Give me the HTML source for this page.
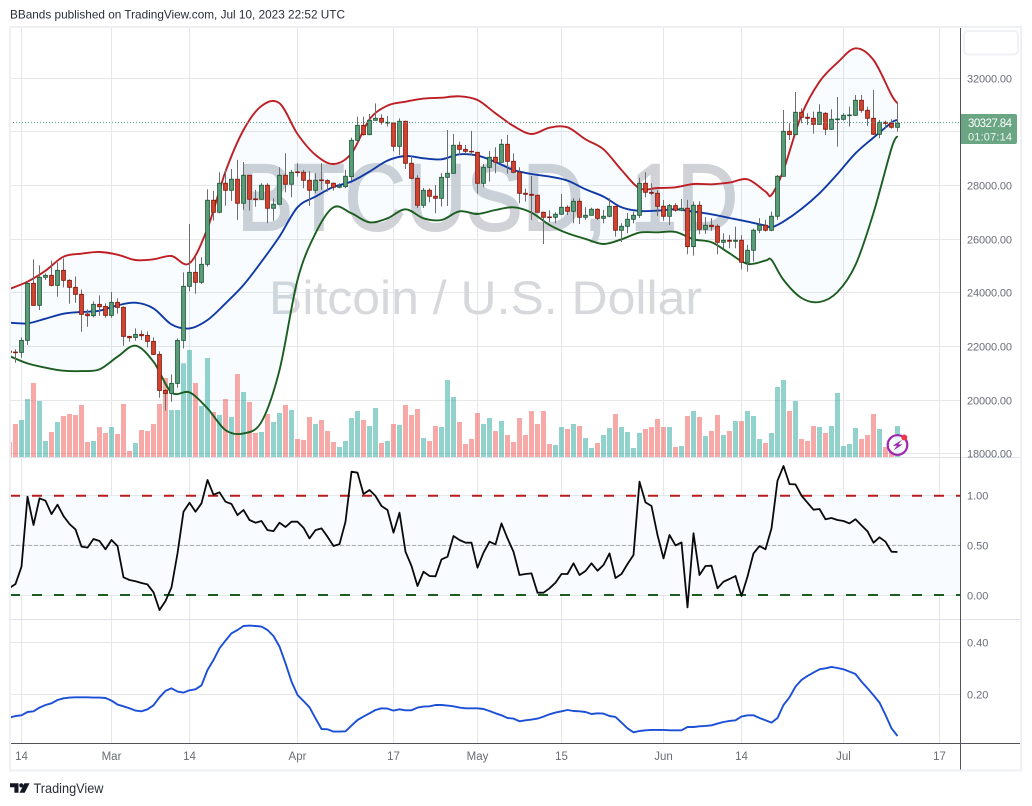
<!DOCTYPE html>
<html>
<head>
<meta charset="utf-8">
<title>BTCUSD 1D Bollinger Bands</title>
<style>
html,body{margin:0;padding:0;background:#fff;width:1032px;height:806px;overflow:hidden}
svg{display:block;font-family:"Liberation Sans",sans-serif}
</style>
</head>
<body>
<svg id="chart" width="1032" height="806" viewBox="0 0 1032 806" xmlns="http://www.w3.org/2000/svg">
  <defs>
    <clipPath id="plot-clip"><rect x="10" y="27" width="950.5" height="716"></rect></clipPath>
    <clipPath id="main-clip"><rect x="10" y="27" width="950.5" height="430"></rect></clipPath>
  </defs>
  <rect x="0" y="0" width="1032" height="806" fill="#ffffff"></rect>
  <text x="10" y="18.5" font-size="12" fill="#2a2e39" textLength="335" lengthAdjust="spacingAndGlyphs">BBands published on TradingView.com, Jul 10, 2023 22:52 UTC</text>
  <g id="grid"></g>
  <text x="237" y="230" font-size="95" fill="#d0d2d7" textLength="501" lengthAdjust="spacingAndGlyphs" stroke="#d0d2d7" stroke-width="2">BTCUSD, 1D</text>
  <text x="269" y="314" font-size="47" fill="#d6d8dc" textLength="433" lengthAdjust="spacingAndGlyphs">Bitcoin / U.S. Dollar</text>
  <g id="main" clip-path="url(#main-clip)"></g>
  <g id="osc" clip-path="url(#plot-clip)"></g>
  <g id="width" clip-path="url(#plot-clip)"></g>
  <g id="axes"></g>
  <rect x="10" y="27" width="1011" height="743.5" fill="none" stroke="#eff0f4" stroke-width="2"></rect>
  <rect x="964" y="31" width="54" height="23.5" rx="4" fill="#ffffff" stroke="#f0f1f5" stroke-width="2"></rect>
  <g>
    <circle cx="897.5" cy="445" r="9.8" fill="#ffffff" fill-opacity="0.8" stroke="#9c27b0" stroke-width="2.2"></circle>
    <path d="M902 439.8 L892.7 445.8 H897 L893.6 450.4 L902.6 444.4 H898.2 Z" fill="#9c27b0"></path>
    <circle cx="904.3" cy="437.5" r="3" fill="#f23645"></circle>
  </g>
  <g>
    <path d="M10 783.3 H18.5 V792.8 H14.4 V787.3 H10 Z" fill="#131722"></path>
    <circle cx="21.3" cy="785.4" r="2.1" fill="#131722"></circle>
    <path d="M19.5 792.8 L24.4 783.3 H29.6 L24.7 792.8 Z" fill="#131722"></path>
    <text x="33.5" y="793" font-size="14" fill="#2a2e39" textLength="70" lengthAdjust="spacingAndGlyphs">TradingView</text>
  </g>
</svg>
<script>
const startDate = '2023-02-12';
const openValues = [21826,21789,21777,22224,24352,23531,24576,24650,24277,24837,24464,24202,23941,23207,23145,23568,23493,
23157,23643,23456,22374,22336,22448,22411,22187,21702,20358,20246,20620,22224,24240,24762,24389,25061,27451,27003,28085,27823,28234,27339,28383,27500,27488,28010,27152,27301,28383,28047,
28507,28495,28196,27823,28209,28184,28085,27935,27960,28332,29687,30246,29898,30433,30507,30333,30333,29463,30396,28829,28270,27263,27822,27599,27524,28307,28457,29501,29351,29277,
29240,28084,28680,29053,28867,29538,28904,28494,27711,27673,27636,27002,26828,26816,26928,27189,27039,27412,26816,26890,27114,26778,26853,27226,26331,26480,26741,26890,28084,27748,27711,
27226,26853,27251,27077,27152,25722,27264,26369,26518,26481,25884,25959,25921,25959,25138,25586,26332,26518,26332,26854,28345,30023,29899,30732,30545,30508,30284,30695,30098,30458,
30471,30607,30620,31179,30806,30508,29911,30359,30322,30172];
const highValues = [21888,21888,22336,24414,25247,25023,24725,25197,25135,25285,24501,24613,24128,23381,23680,23904,23605,
24028,23792,23493,22386,22672,22598,22560,22336,21814,20396,20955,22299,24762,26566,25322,25322,27861,27799,28495,28619,28619,28955,28880,28383,27836,28085,28085,27525,28681,29203,28582,
28830,28582,28532,28457,28830,28234,28110,28085,28582,29787,30570,30570,30669,31067,30657,30594,30346,30507,30420,29103,28382,27910,27897,28021,28457,30072,29923,29637,29513,30038,
29252,28805,29289,29426,29737,29886,29202,28680,27885,28357,27661,27027,27077,27002,27686,27263,27524,27524,27189,27176,27151,27089,27524,27226,26592,26977,27027,28295,28494,28084,27835,
27462,27313,27338,27499,27463,27400,27413,26816,26779,26555,26220,26157,26468,26157,25785,26394,26779,26717,27028,28395,30819,30322,31490,30881,30695,30757,31030,30732,30844,31304,
30695,30943,31378,31378,30943,31565,30446,30421,30471,31092];
const lowValues = [21714,21391,21577,22050,23506,23356,24476,24240,23854,24202,23593,23630,22548,22734,23083,23145,23070,
23070,23220,22025,22175,22212,22237,21963,21677,20085,19600,19935,20458,21926,24053,23966,24339,24974,26692,26966,27252,27426,26717,27090,27065,27214,27463,26593,26692,27301,27749,27562,
28333,27898,27239,27712,27836,27774,27811,27898,27898,28183,29637,29861,29898,30420,30271,30209,29277,29128,28618,28233,27164,27164,27375,26965,27213,27238,28444,29128,29177,29128,
27698,27934,28146,28457,28867,28444,28457,27338,27400,26716,26990,25821,26629,26592,26903,26903,26592,26567,26716,26890,26716,26592,26816,26095,25896,26219,26592,26791,27561,27648,26865,
26691,26530,27027,27039,25437,25387,26182,26195,26307,25437,25660,25660,25660,24877,24790,25163,26220,26282,26294,26717,28333,29700,29887,30322,30259,29936,30259,29887,30073,29452,
30421,30197,30595,30719,30222,29887,29762,30123,30123,30011];
const closeValues = [21777,21764,22224,24352,23531,24576,24650,24277,24837,24464,24202,23941,23195,23145,23568,23481,23157,
23643,23456,22374,22324,22448,22398,22187,21702,20358,20246,20620,22224,24240,24762,24389,25061,27451,27003,28085,27823,28234,27339,28383,27488,27475,28010,27152,27301,28383,28047,28495,
28482,28196,27823,28196,28184,28085,27935,27985,28345,29687,30246,29898,30433,30507,30358,30358,29463,30396,28829,28270,27263,27822,27599,27524,28307,28457,29501,29351,29277,29265,
28084,28680,29053,28867,29538,28904,28494,27711,27673,27636,27002,26816,26803,26928,27189,27039,27412,26816,26890,27114,26778,26853,27226,26331,26480,26741,26890,28084,27748,27711,27226,
26853,27251,27077,27151,25722,27264,26369,26518,26468,25884,25959,25921,25959,25138,25586,26332,26518,26332,26854,28345,30023,29899,30732,30545,30508,30284,30732,30098,30471,30483,
30620,30632,31179,30806,30508,29911,30359,30322,30172,30328];
const volumeValues = [45,99,111,174,222,168,48,75,105,123,129,126,156,45,48,90,72,90,69,159,18,42,81,78,99,159,237,141,141,281,321,222,153,297,135,126,174,120,249,195,165,72,75,129,105,132,156,141,54,51,120,99,111,78,45,30,48,117,138,111,93,147,42,48,99,96,156,126,144,57,48,93,90,231,180,105,39,54,132,99,117,78,108,66,45,117,66,138,99,138,39,36,90,84,99,93,57,27,42,66,87,129,90,75,27,72,84,90,114,90,90,30,33,123,138,120,63,78,126,66,78,108,108,138,123,54,42,72,210,231,138,168,54,48,93,90,72,93,192,33,39,87,54,66,129,84,30,21,93];
const bandBars = [0,3,6,9,12,15,18,21,24,27,30,33,36,39,42,45,48,51,54,57,60,63,66,69,72,75,78,81,84,87,90,93,96,99,102,105,108,111,114,117,120,123,126,127,129,132,135,138,141,144,147,148];
const upperBand = [24140,24414,24824,25347,25459,25521,25421,25222,25247,25372,25098,26406,28520,30073,30968,31068,29924,29141,28805,29202,30470,30980,31129,31241,31278,31328,31191,30694,30222,29923,30159,30172,29724,29351,28581,27897,27910,27934,28059,28047,28109,28233,27774,27649,28581,30632,31875,32584,33118,32683,31378,31067];
const middleBand = [22884,22859,23033,23220,23282,23331,23531,23630,23419,22821,22672,22983,23605,24289,25160,26100,27190,27587,27948,28150,28519,28929,29103,29016,28979,29165,29115,28879,28581,28432,28332,28183,27860,27586,27189,27052,27064,27114,27028,26928,26791,26655,26505,26443,26655,27127,27711,28432,29203,29787,30346,30446];
const lowerBand = [21640,21366,21204,21092,21080,21142,21615,22025,21428,20284,20284,19686,18878,18754,19189,21117,24476,26220,27190,26965,26629,26778,27114,26778,26716,27039,26940,27089,27189,26990,26530,26219,26008,25821,25995,26244,26256,26269,25996,25884,25474,25076,25200,25225,24480,23805,23656,24029,25039,26978,29389,29849];
const percentB = [.070,.111,.285,.990,.705,.973,.950,.815,.909,.795,.715,.661,.487,.477,.564,.544,.460,.554,.493,.178,.151,.138,.121,.107,.027,-.151,-.060,.077,.419,.839,.930,.839,.923,1.158,1.010,1.034,.940,.916,.805,.856,.755,.728,.745,.654,.644,.728,.685,.738,.738,.678,.570,.654,.671,.587,.493,.513,.738,1.242,1.232,1.017,1.057,.997,.896,.856,.628,.829,.436,.292,.091,.235,.191,.188,.359,.386,.594,.554,.527,.527,.275,.426,.537,.510,.721,.570,.436,.201,.211,.218,.023,.023,.067,.124,.211,.211,.319,.201,.242,.319,.245,.302,.419,.171,.211,.312,.403,1.141,.933,.896,.604,.369,.604,.500,.530,-.124,.621,.201,.292,.295,.067,.134,.161,.191,-.010,.185,.419,.493,.460,.671,1.151,1.299,1.117,1.114,1.000,.930,.859,.866,.762,.775,.755,.745,.721,.762,.701,.641,.527,.581,.537,.436,.433];
const bandWidth = [.1103,.1167,.1193,.1321,.1346,.1488,.1590,.1654,.1782,.1847,.1872,.1885,.1885,.1885,.1872,.1872,.1859,.1757,.1603,.1539,.1462,.1372,.1346,.1423,.1577,.1885,.2129,.2231,.2103,.2064,.2154,.2193,.2346,.2936,.3321,.3770,.4064,.4346,.4474,.4628,.4641,.4628,.4603,.4474,.4244,.3834,.3193,.2488,.1975,.1744,.1500,.1077,.0667,.0654,.0564,.0564,.0577,.0795,.1013,.1141,.1270,.1398,.1462,.1449,.1372,.1423,.1385,.1385,.1488,.1526,.1539,.1590,.1590,.1564,.1539,.1488,.1462,.1462,.1462,.1436,.1359,.1270,.1193,.1090,.1064,.0962,.1000,.1026,.1064,.1141,.1231,.1295,.1346,.1398,.1359,.1346,.1321,.1244,.1270,.1257,.1167,.1129,.0910,.0692,.0539,.0590,.0616,.0629,.0629,.0629,.0616,.0616,.0616,.0744,.0744,.0770,.0783,.0808,.0872,.0936,.0975,.1000,.1141,.1193,.1193,.1090,.1000,.0910,.1090,.1590,.1885,.2295,.2552,.2706,.2834,.2962,.3000,.3052,.3013,.2962,.2872,.2782,.2488,.2231,.1962,.1680,.1205,.0692,.0397];
const priceTicks = [32000,30000,28000,26000,24000,22000,20000,18000];
const priceTickLabels = ['32000.00','30000.00','28000.00','26000.00','24000.00','22000.00','20000.00','18000.00'];
const oscTicks = [1,0.5,0];
const oscTickLabels = ['1.00','0.50','0.00'];
const widthTicks = [0.4,0.2];
const widthTickLabels = ['0.40','0.20'];
const timeTickDates = ['2023-02-14','2023-03-01','2023-03-14','2023-04-01','2023-04-17','2023-05-01','2023-05-15','2023-06-01','2023-06-14','2023-07-01','2023-07-17'];
const timeTickLabels = ['14','Mar','14','Apr','17','May','15','Jun','14','Jul','17'];
const lastPrice = [30327.84];
const countdown = ['01:07:14'];

const NS = 'http://www.w3.org/2000/svg';
function make(tag, attrs, parent, text){
  const e = document.createElementNS(NS, tag);
  for (const k in attrs) e.setAttribute(k, attrs[k]);
  if (text !== undefined) e.textContent = text;
  parent.appendChild(e);
  return e;
}
const xOf = i => 9.5 + 6 * i;
const xOfDate = d => xOf((Date.parse(d) - Date.parse(startDate)) / 86400000);
const yPrice = p => 78.3 + (32000 - p) / 37.3;
const yOsc = v => 595 - 99.3 * v;
const yWidth = v => 694.3 - (v - 0.2) * 260;
const crisp = y => Math.floor(y) + 0.5;
const linePath = (xs, ys) => xs.map((x, i) => (i ? 'L' : 'M') + x.toFixed(1) + ' ' + ys[i].toFixed(1)).join(' ');
/* Catmull-Rom curve through the sampled band readings; cmd-less segments so it can be chained */
function curveSegments(xs, ys){
  let d = '';
  for (let i = 0; i < xs.length - 1; i++){
    const a = Math.max(i - 1, 0), b = Math.min(i + 2, xs.length - 1);
    const c1x = xs[i] + (xs[i + 1] - xs[a]) / 6, c1y = ys[i] + (ys[i + 1] - ys[a]) / 6;
    const c2x = xs[i + 1] - (xs[b] - xs[i]) / 6, c2y = ys[i + 1] - (ys[b] - ys[i]) / 6;
    d += ' C' + c1x.toFixed(1) + ' ' + c1y.toFixed(1) + ' ' + c2x.toFixed(1) + ' ' + c2y.toFixed(1) + ' ' + xs[i + 1].toFixed(1) + ' ' + ys[i + 1].toFixed(1);
  }
  return d;
}
const curvePath = (xs, ys) => 'M' + xs[0].toFixed(1) + ' ' + ys[0].toFixed(1) + curveSegments(xs, ys);

const grid = document.getElementById('grid');
const mainPane = document.getElementById('main');
const oscPane = document.getElementById('osc');
const widthPane = document.getElementById('width');
const axes = document.getElementById('axes');
const GRID = '#e6e7ea', TEXT = '#6a6d75';

timeTickDates.forEach((d, i) => {
  const x = Math.floor(xOfDate(d)) + 0.5;
  const v = make('line', {x1:x, x2:x, y1:27, y2:743, stroke:GRID, 'stroke-width':1}, grid);
  
  
  const t = make('text', {x:x, y:760, 'font-size':11.5, fill:TEXT, 'text-anchor':'middle'}, axes, timeTickLabels[i]);
  
  
});
priceTicks.forEach((p, i) => {
  const y = crisp(yPrice(p));
  const g = make('line', {x1:10, x2:960, y1:y, y2:y, stroke:GRID, 'stroke-width':1}, grid);
  
  
  const t = make('text', {x:967, y:y + 4, 'font-size':11, fill:TEXT, textLength:45, lengthAdjust:'spacing'}, axes, priceTickLabels[i]);
  
  
});
const oscFill = make('rect', {x:10, y:yOsc(1), width:950, height:yOsc(0) - yOsc(1), fill:'#f8fbff'}, grid);


oscTicks.forEach((v, i) => {
  const y = crisp(yOsc(v));
  const g = make('line', {x1:10, x2:960, y1:y, y2:y, stroke:GRID, 'stroke-width':1}, grid);
  
  
  const t = make('text', {x:967, y:y + 4, 'font-size':11, fill:TEXT}, axes, oscTickLabels[i]);
  
  
});
widthTicks.forEach((v, i) => {
  const y = crisp(yWidth(v));
  const g = make('line', {x1:10, x2:960, y1:y, y2:y, stroke:GRID, 'stroke-width':1}, grid);
  
  
  const t = make('text', {x:967, y:y + 4, 'font-size':11, fill:TEXT}, axes, widthTickLabels[i]);
  
  
});
[457.5, 619.5].forEach(y => {
  const s = make('line', {x1:10, x2:1021, y1:y, y2:y, stroke:'#e0e3eb', 'stroke-width':1}, grid);
  
  
});

/* Bollinger fill */
const bx = bandBars.map(xOf);
const upperY = upperBand.map(yPrice);
const lowerY = lowerBand.map(yPrice);
const lastIdx = bx.length - 1;
const fillD = curvePath(bx, upperY) + ' L' + bx[lastIdx].toFixed(1) + ' ' + lowerY[lastIdx].toFixed(1) + curveSegments(bx.slice().reverse(), lowerY.slice().reverse()) + ' Z';
const bandFill = make('path', {d:fillD, fill:'#2196f3', 'fill-opacity':0.033}, mainPane);



/* Volume */
volumeValues.forEach((v, i) => {
  const up = closeValues[i] >= openValues[i];
  const h = v / 3;
  const r = make('rect', {x:xOf(i) - 2.5, y:457 - h, width:5, height:h, fill: up ? 'rgba(38,166,154,0.5)' : 'rgba(239,83,80,0.5)'}, mainPane);
  
  
});

/* Band lines */
const upperLine = make('path', {d:curvePath(bx, upperY), fill:'none', stroke:'#bd1f25', 'stroke-width':1.9, 'stroke-linejoin':'round'}, mainPane);


const middleLine = make('path', {d:curvePath(bx, middleBand.map(yPrice)), fill:'none', stroke:'#0f3aa5', 'stroke-width':1.9, 'stroke-linejoin':'round'}, mainPane);


const lowerLine = make('path', {d:curvePath(bx, lowerY), fill:'none', stroke:'#1b5e20', 'stroke-width':1.9, 'stroke-linejoin':'round'}, mainPane);



/* Candles */
openValues.forEach((o, i) => {
  const c = closeValues[i];
  const up = c >= o;
  const x = xOf(i);
  const w = make('line', {x1:x, x2:x, y1:yPrice(highValues[i]), y2:yPrice(lowValues[i]), stroke:'#6e6e6e', 'stroke-width':1}, mainPane);
  
  
  const top = yPrice(Math.max(o, c));
  const h = Math.max(yPrice(Math.min(o, c)) - top, 0.6);
  const b = make('rect', {x:x - 1.9, y:top, width:3.8, height:h, fill: up ? '#5c9e7c' : '#d3432f', stroke: up ? '#1d5a38' : '#86190f', 'stroke-width':0.9}, mainPane);
  
  
});

/* %B pane */
const redDash = make('line', {x1:10, x2:960, y1:yOsc(1), y2:yOsc(1), stroke:'#b71c1c', 'stroke-width':2, 'stroke-dasharray':'10 12'}, oscPane);


const midDash = make('line', {x1:10, x2:960, y1:yOsc(0.5), y2:yOsc(0.5), stroke:'#a9abb2', 'stroke-width':1, 'stroke-dasharray':'4 2'}, oscPane);


const greenDash = make('line', {x1:10, x2:960, y1:yOsc(0), y2:yOsc(0), stroke:'#1b5e20', 'stroke-width':2, 'stroke-dasharray':'10 12'}, oscPane);


const oscLine = make('path', {d:linePath(percentB.map((v, i) => xOf(i)), percentB.map(yOsc)), fill:'none', stroke:'#0a0a0a', 'stroke-width':1.8, 'stroke-linejoin':'round'}, oscPane);



/* Bandwidth pane */
const widthLine = make('path', {d:linePath(bandWidth.map((v, i) => xOf(i)), bandWidth.map(yWidth)), fill:'none', stroke:'#1b4fd6', 'stroke-width':1.9, 'stroke-linejoin':'round'}, widthPane);



/* Axes lines */
const timeAxis = make('line', {x1:10, x2:1021, y1:743.5, y2:743.5, stroke:'#505359', 'stroke-width':1}, axes);


const priceAxis = make('line', {x1:960.5, x2:960.5, y1:27, y2:770, stroke:'#505359', 'stroke-width':1}, axes);



/* Last price line and label */
const lastY = Math.floor(yPrice(lastPrice[0]) - 0.5) + 0.5;
const priceLine = make('line', {x1:10, x2:960, y1:lastY, y2:lastY, stroke:'#5f9e80', 'stroke-width':1, 'stroke-dasharray':'1 2'}, axes);


const labelBox = make('path', {d:'M961 114 H1015 a2 2 0 0 1 2 2 V142 a2 2 0 0 1 -2 2 H961 Z', fill:'#6aa584'}, axes);


const priceText = make('text', {x:968, y:127, 'font-size':11.5, fill:'#ffffff', textLength:44, lengthAdjust:'spacing'}, axes, lastPrice[0].toFixed(2));


const countText = make('text', {x:968, y:140.5, 'font-size':11, fill:'#eef6f1', textLength:44, lengthAdjust:'spacing'}, axes, countdown[0]);


</script>
</body>
</html>
